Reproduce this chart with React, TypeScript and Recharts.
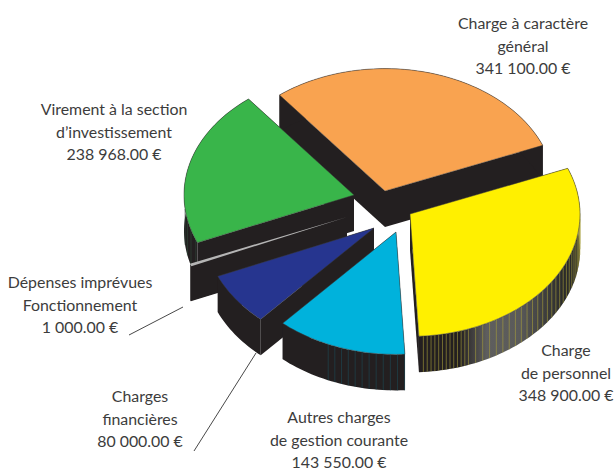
import React from "react";
import { PieChart, Pie } from "recharts";

const names = [
  "Charge à caractère général",
  "Virement à la section d'investissement",
  "Dépenses imprévues Fonctionnement",
  "Charges financières",
  "Autres charges de gestion courante",
  "Charge de personnel",
];
const values = [341100, 238968, 1000, 80000, 143550, 348900];
const labelLines = [
  ["Charge à caractère", "général", "341 100.00 €"],
  ["Virement à la section", "d’investissement", "238 968.00 €"],
  ["Dépenses imprévues", "Fonctionnement", "1 000.00 €"],
  ["Charges", "financières", "80 000.00 €"],
  ["Autres charges", "de gestion courante", "143 550.00 €"],
  ["Charge", "de personnel", "348 900.00 €"],
];
const colors = ["#F9A350", "#39B54A", "#B5B5B5", "#26358F", "#00B2DC", "#FFF000"];
const stripeColors = ["none", "#2F4A3A", "none", "none", "#1D4A55", "#A8A03A"];

const chartData = names.map((name, i) => ({ name, value: values[i], index: i }));

// layout
const W = 616;
const H = 470;
const CX = 375;
const CY = 210;
const R = 170;
const SQUASH = 0.72;
const DEPTH = 36;
const INK = "#231F20";
const explode = [
  [10, -19],
  [-21, -15],
  [-28, 7],
  [-1, 18],
  [21, 22],
  [35, 4],
];
const labelAnchor = [
  [523, 29],
  [114, 115],
  [80, 288],
  [140, 402],
  [339, 423],
  [566, 356],
];
const leaders: Record<number, number[]> = {
  2: [129, 335, 183, 307],
  3: [194, 451, 256, 353],
};

const pt = (x: number, y: number, a: number, d = 0) => {
  const t = (a * Math.PI) / 180;
  return [x + R * Math.cos(t), y - R * SQUASH * Math.sin(t) + d];
};
const arcPts = (x: number, y: number, a0: number, a1: number, d = 0) => {
  const out: number[][] = [];
  const n = Math.max(2, Math.ceil(Math.abs(a1 - a0) / 1.5));
  for (let i = 0; i <= n; i++) out.push(pt(x, y, a0 + ((a1 - a0) * i) / n, d));
  return out;
};
const toPath = (p: number[][]) =>
  "M" + p.map((q) => q[0].toFixed(2) + "," + q[1].toFixed(2)).join("L") + "Z";

function Slice3D(props: any) {
  const { startAngle, endAngle, cx, cy, index } = props;
  const i: number = props.payload?.index ?? index;
  const x = cx + explode[i][0];
  const y = cy + explode[i][1];
  const sliver = i === 2 ? 0.45 : 0;
  const top = [[x, y], ...arcPts(x, y, startAngle - sliver, endAngle + sliver)];
  const s = pt(x, y, startAngle);
  const e = pt(x, y, endAngle);
  const face = (o: number[]) => toPath([[x, y], o, [o[0], o[1] + DEPTH], [x, y + DEPTH]]);
  const side = [
    ...arcPts(x, y, startAngle, endAngle),
    ...arcPts(x, y, endAngle, startAngle, DEPTH),
  ];
  const stripes: number[] = [];
  if (stripeColors[i] !== "none") {
    let a = Math.max(startAngle, i === 1 ? 185 : i === 4 ? 245 : 180) + 1.5;
    while (a < endAngle) {
      stripes.push(a);
      const fromBottom = Math.abs(a - 273);
      a += i === 5 && fromBottom < 16 ? 1.3 : i === 5 ? 2.6 : i === 1 ? 5 : 2.4;
    }
  }
  const gid = "side-grad-" + i;
  return (
    <g>
      <defs>
        <linearGradient id={gid} x1="0" x2="1" y1="0" y2="0">
          <stop offset="0.25" stopColor={INK} />
          <stop offset="0.42" stopColor="#5E5E5E" />
          <stop offset="0.62" stopColor="#5A5A5A" />
          <stop offset="0.9" stopColor="#2A2A2A" />
        </linearGradient>
      </defs>
      <path d={face(s)} fill={INK} />
      <path d={face(e)} fill={INK} />
      <path d={toPath(side)} fill={i === 5 ? `url(#${gid})` : INK} />
      {stripes.map((a) => {
        const p = pt(x, y, a);
        return (
          <line
            key={a}
            x1={p[0]}
            y1={p[1]}
            x2={p[0]}
            y2={p[1] + DEPTH}
            stroke={stripeColors[i]}
            strokeWidth={0.6}
          />
        );
      })}
      <path
        d={toPath(top)}
        fill={colors[i]}
        stroke={i === 2 ? "none" : "#3A3A3A"}
        strokeWidth={0.5}
        strokeLinejoin="round"
      />
    </g>
  );
}

function SliceLabel(props: any) {
  const i: number = props.payload?.index ?? props.index;
  const [ax, ay] = labelAnchor[i];
  const l = leaders[i];
  return (
    <g>
      {l && <line x1={l[0]} y1={l[1]} x2={l[2]} y2={l[3]} stroke="#333" strokeWidth={0.9} />}
      <text
        x={ax}
        y={ay}
        textAnchor="middle"
        fill="#3C3C3C"
        style={{ fontFamily: "Lato, sans-serif", fontSize: 15.9 }}
      >
        {labelLines[i].map((t, k) => (
          <tspan key={k} x={ax} y={ay + k * 22.5}>
            {t}
          </tspan>
        ))}
      </text>
    </g>
  );
}

export default function App() {
  return (
    <div style={{ position: "absolute", left: 0, top: 0, width: W, height: H, background: "#fff" }}>
      <PieChart width={W} height={H} margin={{ top: 0, right: 0, bottom: 0, left: 0 }}>
        <Pie
          data={chartData}
          dataKey="value"
          nameKey="name"
          cx={CX}
          cy={CY}
          outerRadius={R}
          innerRadius={0}
          startAngle={21.9}
          endAngle={381.9}
          paddingAngle={0}
          stroke="none"
          isAnimationActive={false}
          shape={Slice3D}
          label={SliceLabel}
          labelLine={false}
        />
      </PieChart>
    </div>
  );
}
